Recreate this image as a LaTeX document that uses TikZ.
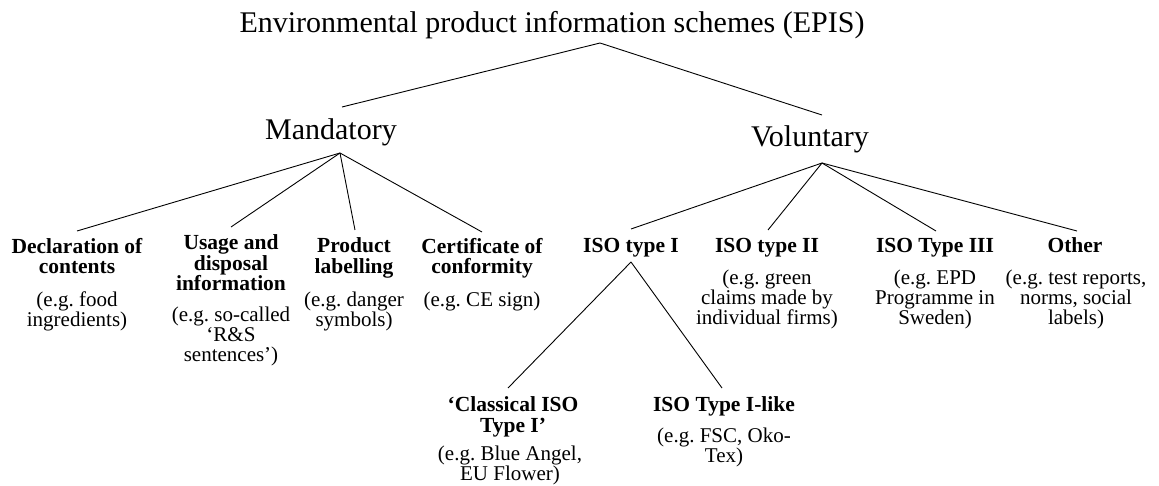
\documentclass[tikz,border=0pt]{standalone}
\usepackage{fontspec}
\setmainfont{Liberation Serif}
\frenchspacing
\begin{document}
\begin{tikzpicture}[x=1pt,y=-1pt,
  every node/.style={inner sep=0pt, outer sep=0pt},
  head/.style={font=\fontsize{30}{32}\selectfont, anchor=base},
  cat/.style={font=\fontsize{21.5}{20.5}\selectfont\bfseries, align=center, anchor=north},
  ex/.style={font=\fontsize{21}{20}\selectfont, align=center, anchor=north},
  link/.style={line width=0.9pt}]
\useasboundingbox (0,0) rectangle (1159,486);

\node[head] (title) at (552,33) {Environmental product information schemes (EPIS)};
\node[head] (mand) at (331,140) {Mandatory};
\node[head] (vol) at (810,147) {Voluntary};

\node[cat] (decl) at (77,238) {Declaration of\\contents};
\node[ex] (declx) at (77,292) {(e.g. food\\ingredients)};
\node[cat] (usage) at (231,235) {Usage and\\disposal\\information};
\node[ex] (usagex) at (231,307) {(e.g. so-called\\‘R\&S\\sentences’)};
\node[cat] (prod) at (354,238) {Product\\labelling};
\node[ex] (prodx) at (354,292) {(e.g. danger\\symbols)};
\node[cat] (cert) at (482,238) {Certificate of\\conformity};
\node[ex] (certx) at (482,292) {(e.g. CE sign)};
\node[cat] (iso1) at (631,238) {ISO type I};
\node[cat] (iso2) at (767,238) {ISO type II};
\node[ex] (iso2x) at (767,270) {(e.g. green\\claims made by\\individual firms)};
\node[cat] (iso3) at (935,238) {ISO Type III};
\node[ex] (iso3x) at (935,270) {(e.g. EPD\\Programme in\\Sweden)};
\node[cat] (other) at (1075,238) {Other};
\node[ex] (otherx) at (1076,270) {(e.g. test reports,\\norms, social\\labels)};
\node[cat] (class) at (513,397) {‘Classical ISO\\Type I’};
\node[ex] (classx) at (510,446) {(e.g. Blue Angel,\\EU Flower)};
\node[cat] (like) at (724,397) {ISO Type I-like};
\node[ex] (likex) at (724,428) {(e.g. FSC, Oko-\\Tex)};

% connector end points
\coordinate (titleB) at (600,43);
\coordinate (mandT) at (342,107);
\coordinate (volT) at (822,115);
\coordinate (mandB) at (340,153);
\coordinate (volB) at (822,163);
\coordinate (declT) at (77,231);
\coordinate (usageT) at (231,227);
\coordinate (prodT) at (355,230);
\coordinate (certT) at (482,232);
\coordinate (iso1T) at (631,229);
\coordinate (iso2T) at (768,230);
\coordinate (iso3T) at (936,231);
\coordinate (otherT) at (1077,231);
\coordinate (iso1B) at (631,262);
\coordinate (classT) at (508,388);
\coordinate (likeT) at (722,388);

\draw[link] (mandT) -- (titleB) -- (volT);
\draw[link] (mandB) -- (declT);
\draw[link] (mandB) -- (usageT);
\draw[link] (mandB) -- (prodT);
\draw[link] (mandB) -- (certT);
\draw[link] (volB) -- (iso1T);
\draw[link] (volB) -- (iso2T);
\draw[link] (volB) -- (iso3T);
\draw[link] (volB) -- (otherT);
\draw[link] (iso1B) -- (classT);
\draw[link] (iso1B) -- (likeT);
\end{tikzpicture}
\end{document}
